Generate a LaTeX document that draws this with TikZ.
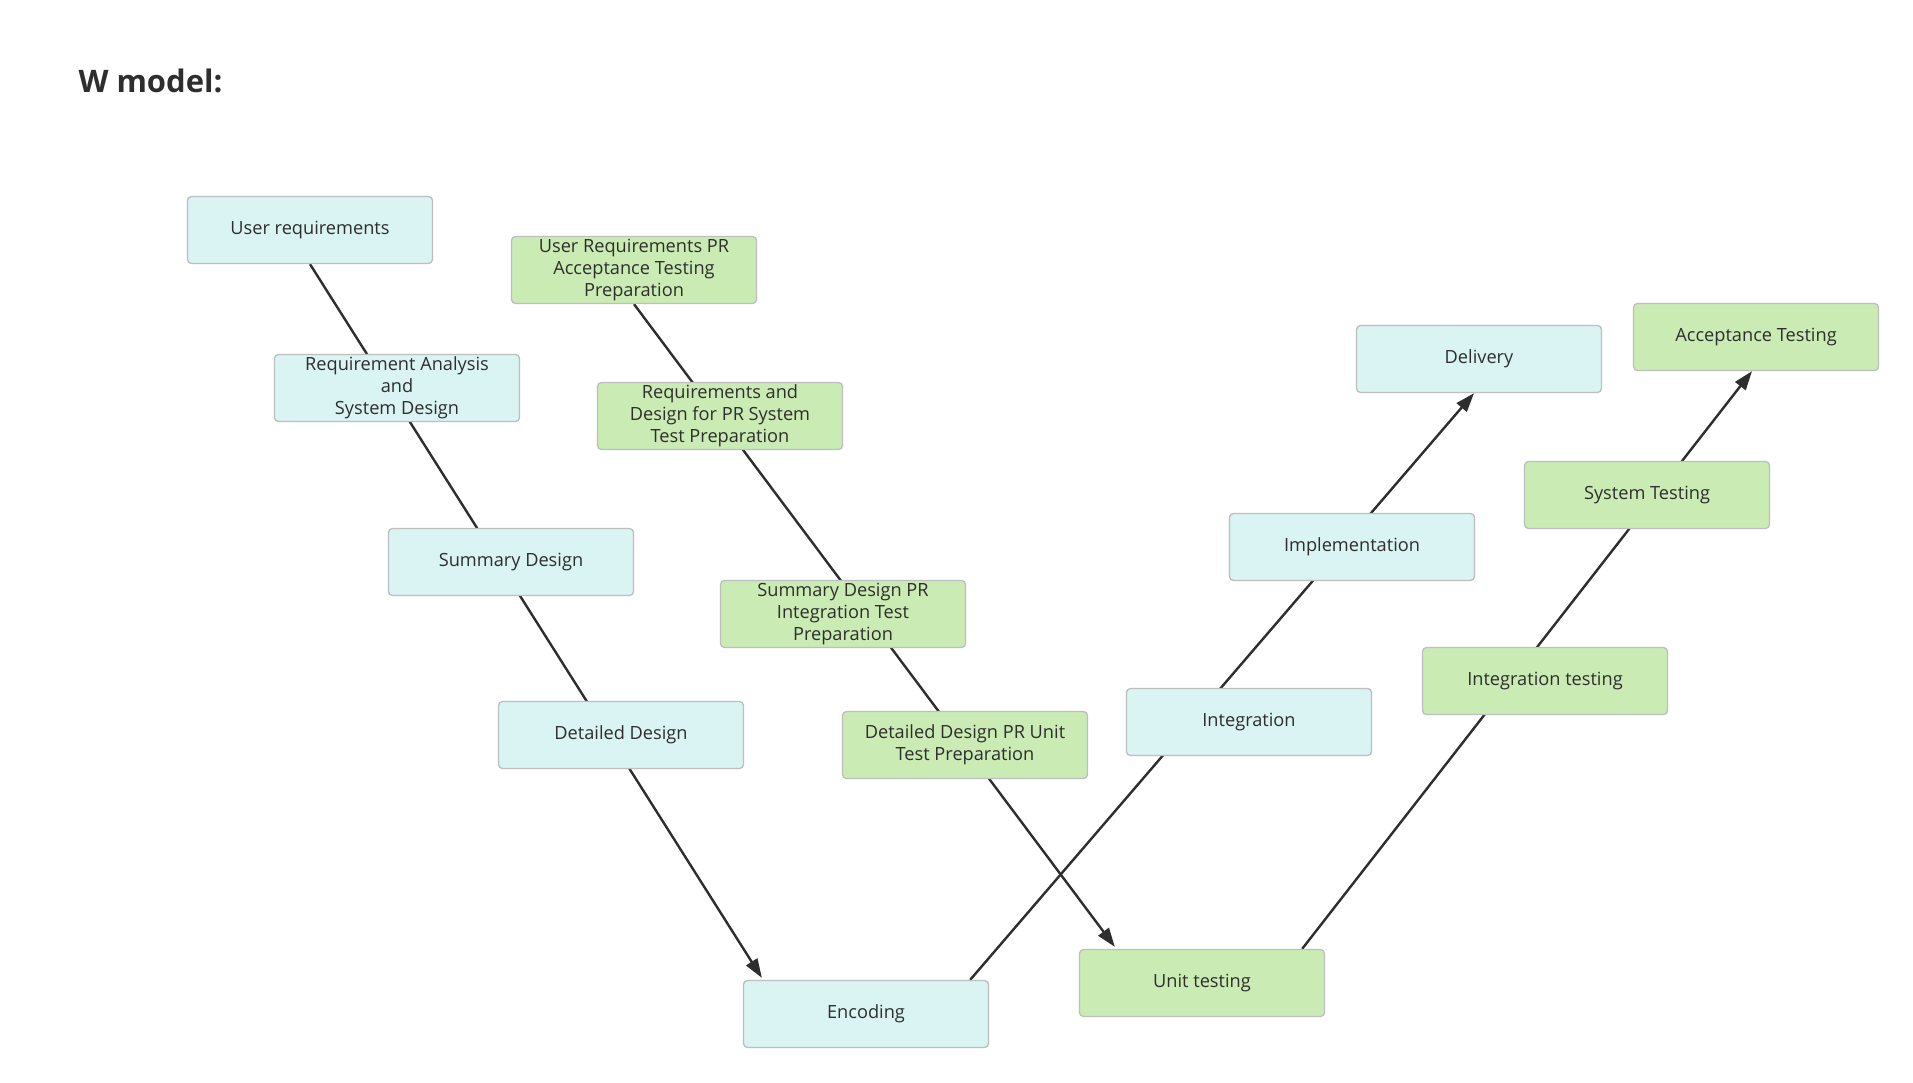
\documentclass[tikz,border=0pt]{standalone}
\usepackage{fontspec}
\setmainfont{Open Sans}
\usetikzlibrary{arrows.meta,calc}
\definecolor{boxblue}{HTML}{DAF3F3}
\definecolor{boxgreen}{HTML}{CBEBB4}
\definecolor{boxline}{HTML}{BEBEBE}
\definecolor{ink}{HTML}{2E2E2E}
\pgfdeclarelayer{bg}
\pgfdeclarelayer{lines}
\pgfsetlayers{bg,lines,main}
\tikzset{
  box/.style={draw=boxline, line width=1.3pt, rounded corners=4pt,
    minimum width=245pt, minimum height=67pt, inner sep=0pt,
    align=center, text=ink, font=\fontsize{18.2}{22}\selectfont},
  bluebox/.style={box, fill=boxblue},
  greenbox/.style={box, fill=boxgreen},
  conn/.style={draw=ink, line width=2.4pt},
  arr/.style={conn, -{Triangle[length=19pt,width=13pt]}}
}
\begin{document}
\begin{tikzpicture}[x=1pt,y=-1pt]
\begin{pgfonlayer}{bg}
\fill[white] (0,0) rectangle (1913,1083);
\end{pgfonlayer}
\useasboundingbox (0,0) rectangle (1913,1083);

\node[anchor=base west, text=ink, font=\bfseries\fontsize{31}{36}\selectfont] (title) at (75,93) {W model:};

\node[bluebox] (ur) at (310,230) {User requirements};
\node[bluebox] (ra) at (397,388) {Requirement Analysis\\and\\System Design};
\node[bluebox] (sd) at (511,562) {Summary Design};
\node[bluebox] (dd) at (621,735) {Detailed Design};
\node[bluebox] (enc) at (866,1014) {Encoding};
\node[bluebox] (integ) at (1249,722) {Integration};
\node[bluebox] (impl) at (1352,547) {Implementation};
\node[bluebox] (deliv) at (1479,359) {Delivery};

\node[greenbox] (uapr) at (634,270) {User Requirements PR\\Acceptance Testing\\Preparation};
\node[greenbox] (rdpr) at (720,416) {Requirements and\\Design for PR System\\Test Preparation};
\node[greenbox] (sdpr) at (843,614) {Summary Design PR\\Integration Test\\Preparation};
\node[greenbox] (ddpr) at (965,745) {Detailed Design PR Unit\\Test Preparation};
\node[greenbox] (unit) at (1202,983) {Unit testing};
\node[greenbox] (inttest) at (1545,681) {Integration testing};
\node[greenbox] (systest) at (1647,495) {System Testing};
\node[greenbox] (acc) at (1756,337) {Acceptance Testing};

\begin{pgfonlayer}{lines}
\draw[arr] (ur.south) -- ($(enc.north west)+(19,-2)$);
\draw[arr] (uapr.south) -- ($(unit.north west)+(36,-2)$);
\draw[arr] ($(enc.north east)+(-19,0)$) -- ($(deliv.south)+(-5,0)$);
\draw[arr] ($(unit.north east)+(-23,0)$) -- ($(acc.south)+(-4,0)$);
\end{pgfonlayer}
\end{tikzpicture}
\end{document}
